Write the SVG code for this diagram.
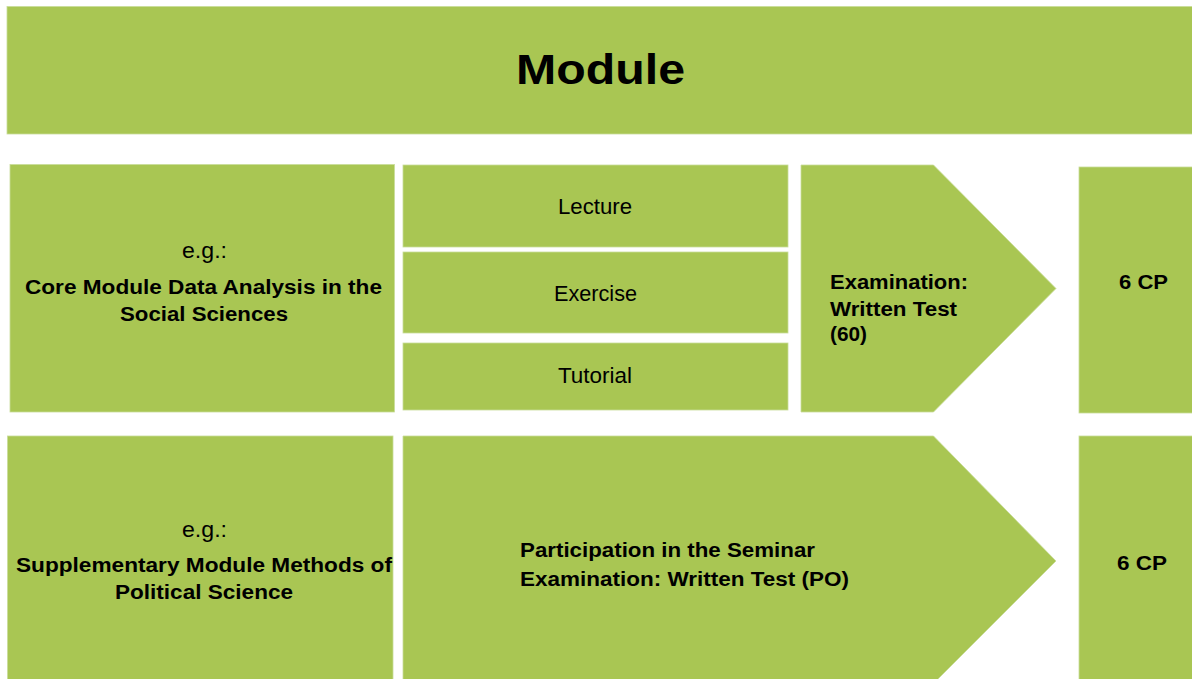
<svg xmlns="http://www.w3.org/2000/svg" width="1192" height="679" viewBox="0 0 1192 679">
<style>
.b{fill:#a9c653;stroke:#c9dc9a;stroke-width:0.8}
.t{font-family:"Liberation Sans",Arial,sans-serif;fill:#000;font-size:21.5px}
.bd{font-family:"Liberation Sans",Arial,sans-serif;fill:#000;font-weight:bold;font-size:20px}
</style>
<rect width="1192" height="679" fill="#ffffff"/>
<g id="header">
<rect class="b" x="7" y="6.5" width="1190" height="127.5"/>
<text class="bd" x="516" y="83.5" style="font-size:43px" textLength="169" lengthAdjust="spacingAndGlyphs">Module</text>
</g>
<g id="core-module">
<rect class="b" x="10" y="164.5" width="384.5" height="247.5"/>
<text class="t" x="182" y="258" textLength="45" lengthAdjust="spacingAndGlyphs">e.g.:</text>
<text class="bd" x="25" y="293.5" textLength="357" lengthAdjust="spacingAndGlyphs">Core Module Data Analysis in the</text>
<text class="bd" x="120" y="321" textLength="168" lengthAdjust="spacingAndGlyphs">Social Sciences</text>
</g>
<g id="lecture">
<rect class="b" x="403" y="165" width="385" height="82"/>
<text class="t" x="558" y="214" textLength="74" lengthAdjust="spacingAndGlyphs">Lecture</text>
</g>
<g id="exercise">
<rect class="b" x="403" y="252" width="385" height="81"/>
<text class="t" x="554" y="301" textLength="83" lengthAdjust="spacingAndGlyphs">Exercise</text>
</g>
<g id="tutorial">
<rect class="b" x="403" y="343" width="385" height="67"/>
<text class="t" x="558" y="383" textLength="74" lengthAdjust="spacingAndGlyphs">Tutorial</text>
</g>
<g id="exam-1">
<polygon class="b" points="801,165 933.5,165 1056,288.5 933.5,412 801,412"/>
<text class="bd" x="830" y="289" textLength="138" lengthAdjust="spacingAndGlyphs">Examination:</text>
<text class="bd" x="830" y="316" textLength="127" lengthAdjust="spacingAndGlyphs">Written Test</text>
<text class="bd" x="830" y="341" textLength="37" lengthAdjust="spacingAndGlyphs">(60)</text>
</g>
<g id="cp-1">
<rect class="b" x="1079" y="167" width="120" height="246"/>
<text class="bd" x="1119" y="288.5" textLength="49" lengthAdjust="spacingAndGlyphs">6 CP</text>
</g>
<g id="supplementary-module">
<rect class="b" x="7.5" y="436" width="385.5" height="250"/>
<text class="t" x="182" y="537" textLength="45" lengthAdjust="spacingAndGlyphs">e.g.:</text>
<text class="bd" x="16" y="572" textLength="376" lengthAdjust="spacingAndGlyphs">Supplementary Module Methods of</text>
<text class="bd" x="115" y="599" textLength="178" lengthAdjust="spacingAndGlyphs">Political Science</text>
</g>
<g id="seminar">
<polygon class="b" points="403,436 933.5,436 1056,561 931,686 403,686"/>
<text class="bd" x="520" y="557" textLength="295" lengthAdjust="spacingAndGlyphs">Participation in the Seminar</text>
<text class="bd" x="520" y="585.5" textLength="329" lengthAdjust="spacingAndGlyphs">Examination: Written Test (PO)</text>
</g>
<g id="cp-2">
<rect class="b" x="1079" y="436" width="120" height="250"/>
<text class="bd" x="1117" y="570" textLength="50" lengthAdjust="spacingAndGlyphs">6 CP</text>
</g>
<g id="connectors"></g>
</svg>
